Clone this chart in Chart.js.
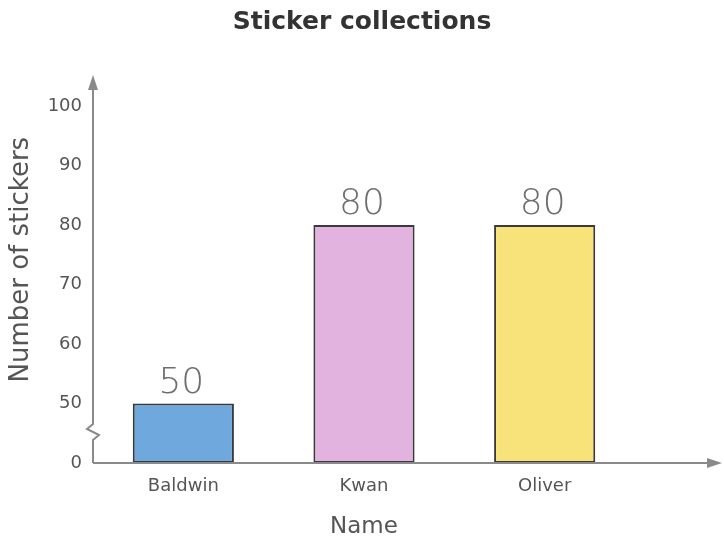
<!DOCTYPE html>
<html>
<head>
<meta charset="utf-8">
<script src="https://cdn.jsdelivr.net/npm/chart.js@4"></script>
<style>
  html, body { margin: 0; padding: 0; background: #fff; }
  #wrap { width: 724px; height: 541px; }
</style>
</head>
<body>
<div id="wrap"><canvas id="chart"></canvas></div>
<script>
// data
const names = ['Baldwin', 'Kwan', 'Oliver'];
const stickers = [50, 80, 80];
const barColors = ['#6fa8dc', '#e2b3df', '#f8e37b'];
// the y axis is broken: everything below 50 is squeezed into one step labelled 0
const axisBreak = 40;
const yMax = 100;
const yStep = 10;

const axisColor = '#8a8a8a';

// axis lines with arrows and the little zigzag break
const axesPlugin = {
    id: 'axesPlugin',
    afterDraw(chart) {
        const ctx = chart.ctx;
        const area = chart.chartArea;
        const x0 = area.left;
        const y0 = area.bottom;
        ctx.save();
        ctx.strokeStyle = axisColor;
        ctx.fillStyle = axisColor;
        ctx.lineWidth = 2;

        // y axis, with the break
        ctx.beginPath();
        ctx.moveTo(x0, y0);
        ctx.lineTo(x0, y0 - 23);
        ctx.lineTo(x0 + 6, y0 - 28);
        ctx.lineTo(x0 - 6, y0 - 34);
        ctx.lineTo(x0, y0 - 39);
        ctx.lineTo(x0, area.top - 28);
        ctx.stroke();
        ctx.beginPath();
        ctx.moveTo(x0, area.top - 31);
        ctx.lineTo(x0 - 5, area.top - 16);
        ctx.lineTo(x0 + 5, area.top - 16);
        ctx.closePath();
        ctx.fill();

        // x axis
        const xEnd = chart.width - 2;
        ctx.beginPath();
        ctx.moveTo(x0, y0);
        ctx.lineTo(xEnd - 4, y0);
        ctx.stroke();
        ctx.beginPath();
        ctx.moveTo(xEnd, y0);
        ctx.lineTo(xEnd - 15, y0 - 5);
        ctx.lineTo(xEnd - 15, y0 + 5);
        ctx.closePath();
        ctx.fill();
        ctx.restore();
    }
};

// the pencil-written numbers above each bar
const valueLabels = {
    id: 'valueLabels',
    afterDatasetsDraw(chart) {
        const ctx = chart.ctx;
        const meta = chart.getDatasetMeta(0);
        ctx.save();
        ctx.fillStyle = '#6e6e6e';
        ctx.font = '200 36px "DejaVu Sans"';
        ctx.textAlign = 'center';
        ctx.textBaseline = 'alphabetic';
        meta.data.forEach((bar, i) => {
            ctx.fillText(String(stickers[i]), bar.x - 2, bar.y - 11);
        });
        ctx.restore();
    }
};

new Chart(document.getElementById('chart'), {
    type: 'bar',
    data: {
        labels: names,
        datasets: [{
            data: stickers,
            base: axisBreak,
            backgroundColor: barColors,
            borderColor: '#3a3a3a',
            borderWidth: 2,
            borderSkipped: false,
            barPercentage: 0.56,
            categoryPercentage: 1
        }]
    },
    options: {
        responsive: true,
        maintainAspectRatio: false,
        animation: false,
        layout: { padding: 0 },
        plugins: {
            legend: { display: false },
            tooltip: { enabled: false },
            title: {
                display: true,
                text: 'Sticker collections',
                color: '#333',
                font: { family: 'DejaVu Sans', size: 25, weight: 'bold', lineHeight: 1.2 },
                padding: { top: 7, bottom: 69 }
            }
        },
        scales: {
            x: {
                grid: { display: false, drawTicks: false },
                border: { display: false },
                ticks: {
                    color: '#555',
                    font: { family: 'DejaVu Sans', size: 18 },
                    padding: 13
                },
                title: {
                    display: true,
                    text: 'Name',
                    color: '#555',
                    font: { family: 'DejaVu Sans', size: 23, lineHeight: 1.2 },
                    padding: { top: 0, bottom: 0 }
                },
                afterFit(scale) { scale.height = 78; }
            },
            y: {
                min: axisBreak,
                max: yMax,
                grid: { display: false, drawTicks: false },
                border: { display: false },
                ticks: {
                    stepSize: yStep,
                    color: '#555',
                    font: { family: 'DejaVu Sans', size: 18 },
                    padding: 11,
                    callback: v => (v === axisBreak ? '0' : v)
                },
                title: {
                    display: true,
                    // leading spaces nudge the rotated title up, like in the original
                    text: '      Number of stickers',
                    color: '#555',
                    font: { family: 'DejaVu Sans', size: 26, lineHeight: 1.2 },
                    padding: { top: 6, bottom: 0 }
                },
                afterFit(scale) { scale.width = 93; }
            },
            // empty axis on the right, only to leave room for the x-axis arrow
            yRight: {
                position: 'right',
                grid: { display: false, drawTicks: false },
                border: { display: false },
                ticks: { display: false },
                afterFit(scale) { scale.width = 89; }
            }
        }
    },
    plugins: [axesPlugin, valueLabels]
});
</script>
</body>
</html>
